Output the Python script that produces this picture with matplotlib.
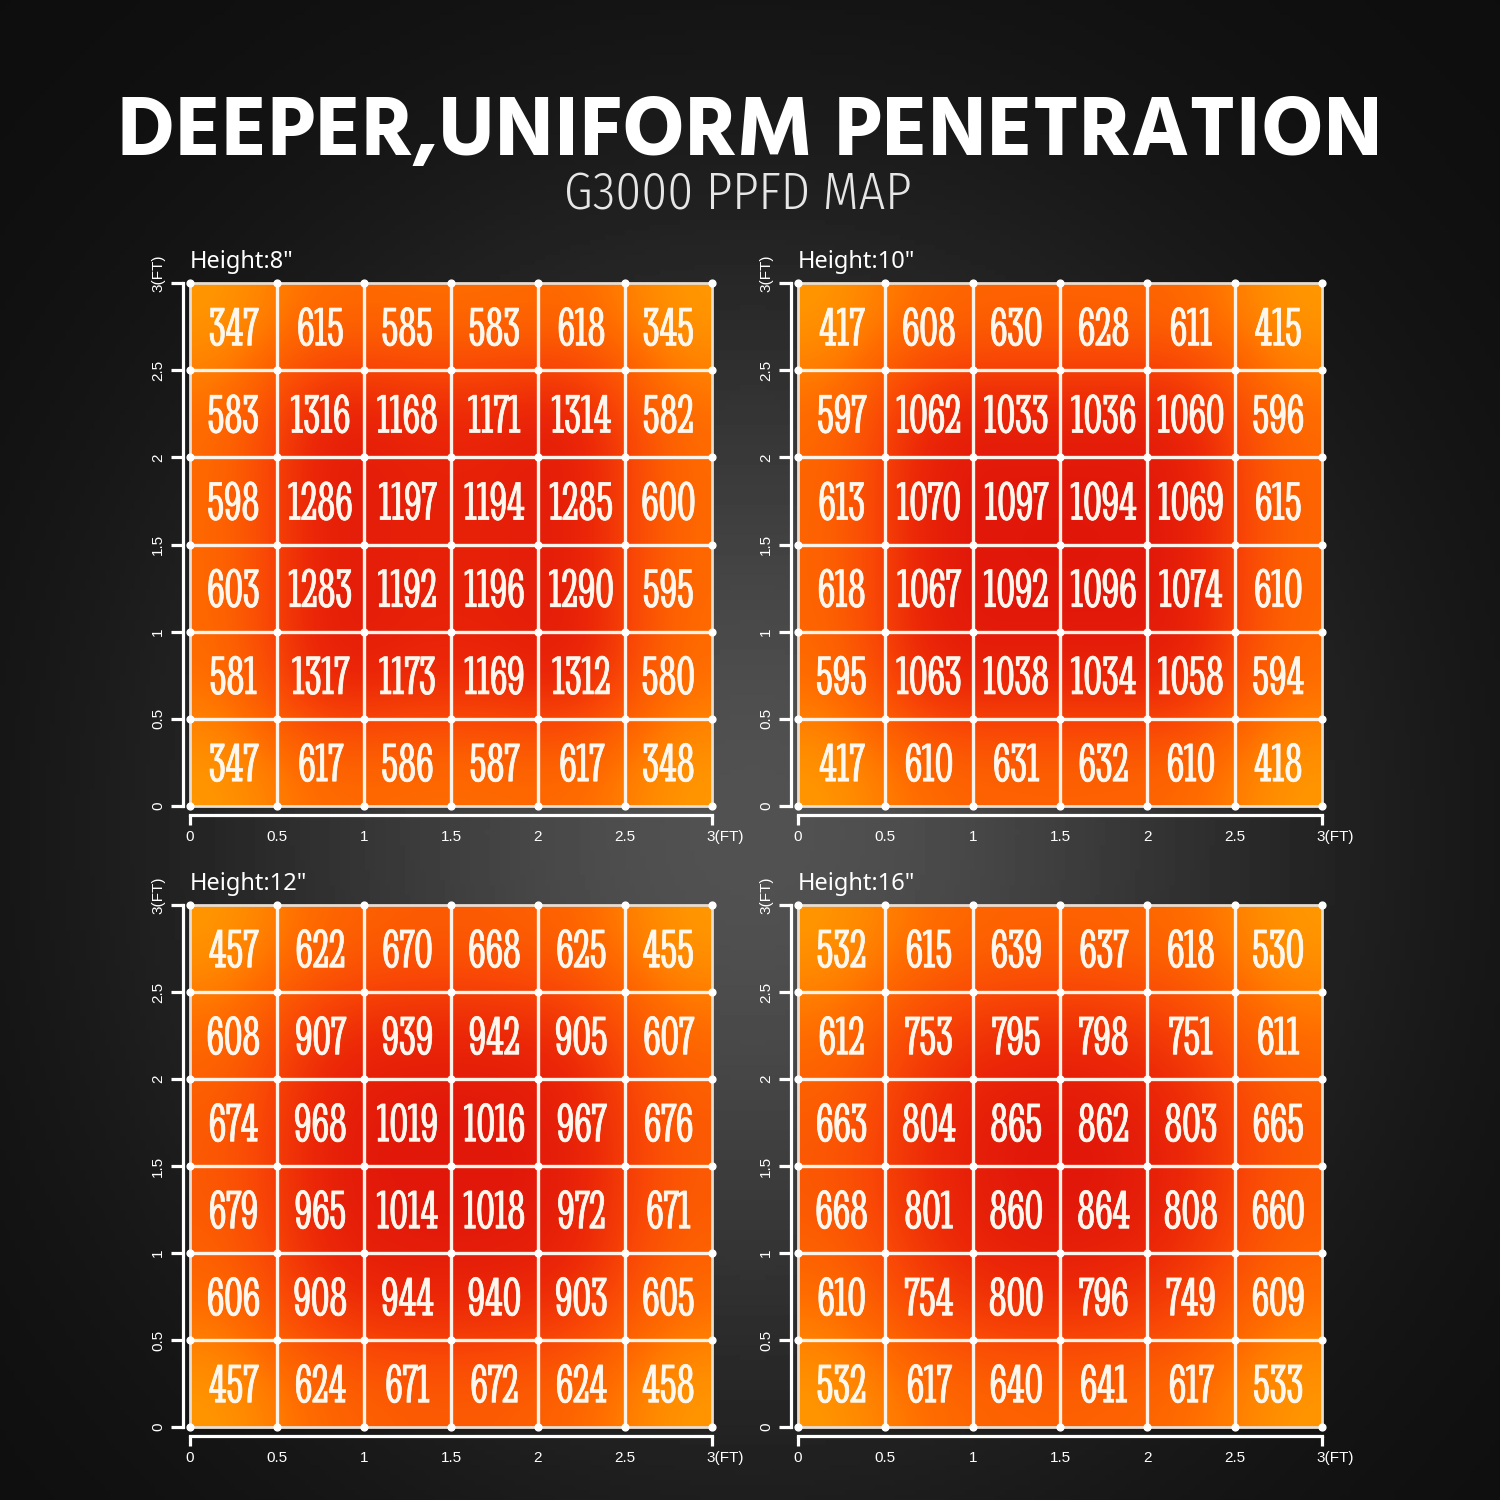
import numpy as np
import matplotlib.pyplot as plt
import matplotlib.patheffects as pe
from matplotlib.colors import LinearSegmentedColormap, Normalize
from matplotlib.transforms import offset_copy

# PPFD readings (umol/m2/s), rows listed top to bottom
ppfd_8 = [[347, 615, 585, 583, 618, 345],
          [583, 1316, 1168, 1171, 1314, 582],
          [598, 1286, 1197, 1194, 1285, 600],
          [603, 1283, 1192, 1196, 1290, 595],
          [581, 1317, 1173, 1169, 1312, 580],
          [347, 617, 586, 587, 617, 348]]
ppfd_10 = [[417, 608, 630, 628, 611, 415],
           [597, 1062, 1033, 1036, 1060, 596],
           [613, 1070, 1097, 1094, 1069, 615],
           [618, 1067, 1092, 1096, 1074, 610],
           [595, 1063, 1038, 1034, 1058, 594],
           [417, 610, 631, 632, 610, 418]]
ppfd_12 = [[457, 622, 670, 668, 625, 455],
           [608, 907, 939, 942, 905, 607],
           [674, 968, 1019, 1016, 967, 676],
           [679, 965, 1014, 1018, 972, 671],
           [606, 908, 944, 940, 903, 605],
           [457, 624, 671, 672, 624, 458]]
ppfd_16 = [[532, 615, 639, 637, 618, 530],
           [612, 753, 795, 798, 751, 611],
           [663, 804, 865, 862, 803, 665],
           [668, 801, 860, 864, 808, 660],
           [610, 754, 800, 796, 749, 609],
           [532, 617, 640, 641, 617, 533]]

heights = ['Height:8"', 'Height:10"', 'Height:12"', 'Height:16"']
grids = [ppfd_8, ppfd_10, ppfd_12, ppfd_16]
tick_pos = [0, 0.5, 1, 1.5, 2, 2.5, 3]
tick_txt = ['0', '0.5', '1', '1.5', '2', '2.5', '3(FT)']

W = 1500.0
# panel rectangles in pixels: left, top, right, bottom
rects = [(190, 283, 712, 806), (798, 283, 1322, 806),
         (190, 905, 712, 1427), (798, 905, 1322, 1427)]

cmap = LinearSegmentedColormap.from_list(
    'ppfd', [(0.0, '#ff9a00'), (0.25, '#ff6c00'), (0.55, '#f94806'),
             (0.8, '#ec2808'), (1.0, '#e0160a')])

fig = plt.figure(figsize=(15, 15), dpi=100)

# dark vignette background
bg = fig.add_axes([0, 0, 1, 1])
yy, xx = np.mgrid[0:300, 0:300] * 5.0
shade = 0.05 + 0.27 * np.exp(-((xx - 750) ** 2 / (2 * 380 ** 2) + (yy - 830) ** 2 / (2 * 400 ** 2)))
bg.imshow(shade, cmap='gray', vmin=0, vmax=1, extent=(0, 1, 0, 1), aspect='auto')
bg.set_axis_off()

fig.text(0.5, 1 - 133 / W, 'DEEPER,UNIFORM PENETRATION', color='white',
         fontsize=61, fontweight='bold', family='Hind', ha='center', va='center')
fig.text(0.492, 1 - 195 / W, 'G3000 PPFD MAP', color='#e6e6e6',
         fontsize=37, fontweight=300, family='Fira Sans Condensed', ha='center', va='center')

for title, data, (l, t, r, b) in zip(heights, grids, rects):
    ax = fig.add_axes([l / W, 1 - b / W, (r - l) / W, (b - t) / W])
    ax.set_facecolor('none')
    vals = np.array(data, dtype=float)
    ax.imshow(vals, cmap=cmap, norm=Normalize(vals.min(), vals.max()),
              interpolation='bicubic', extent=(0, 3, 0, 3), aspect='auto')
    ax.set_xlim(0, 3)
    ax.set_ylim(0, 3)

    # white cell grid with dots at the crossings
    for p in tick_pos:
        edge = p in (0, 3)
        c = '#e8ddd2' if edge else '#fbf3ea'
        w = 2.0 if edge else 2.4
        ax.plot([p, p], [0, 3], color=c, lw=w, clip_on=False, zorder=3)
        ax.plot([0, 3], [p, p], color=c, lw=w, clip_on=False, zorder=3)
    gx, gy = np.meshgrid(tick_pos, tick_pos)
    ax.scatter(gx.ravel(), gy.ravel(), s=24, color='white', clip_on=False, zorder=4)

    # numbers
    n = vals.shape[0]
    for i in range(n):
        for j in range(n):
            ax.text((j + 0.5) * 3 / n, 3 - (i + 0.5) * 3 / n - 0.03, str(data[i][j]),
                    color='#fdf7ee', fontsize=40, family='Stint Ultra Condensed',
                    ha='center', va='center', zorder=5,
                    path_effects=[pe.withStroke(linewidth=0.5, foreground='#fdf7ee')])

    # bracket axes
    for s in ['top', 'right']:
        ax.spines[s].set_visible(False)
    ax.spines['left'].set_position(('outward', 5))
    ax.spines['bottom'].set_position(('outward', 6.5))
    for s in ['left', 'bottom']:
        ax.spines[s].set_color('white')
        ax.spines[s].set_linewidth(2.3)
    ax.set_yticks(tick_pos)
    ax.set_yticklabels([])
    ax.tick_params(axis='y', direction='out', length=8.5, width=2.3, color='white')
    ax.set_xticks([0, 3])
    ax.set_xticklabels([])
    ax.tick_params(axis='x', direction='out', length=7, width=2.3, color='white')

    for p, s in zip(tick_pos, tick_txt):
        if p < 3:
            tr = offset_copy(ax.transData, fig=fig, x=-32, y=0, units='dots')
            ax.text(0, p, s, transform=tr, rotation=90, color='white', fontsize=11,
                    family='Liberation Sans', ha='center', va='center', clip_on=False)
            tr = offset_copy(ax.transData, fig=fig, x=0, y=-31, units='dots')
            ax.text(p, 0, s, transform=tr, color='white', fontsize=11,
                    family='Liberation Sans', ha='center', va='center', clip_on=False)
        else:
            tr = offset_copy(ax.transData, fig=fig, x=-32, y=-9, units='dots')
            ax.text(0, p, s, transform=tr, rotation=90, color='white', fontsize=11,
                    family='Liberation Sans', ha='center', va='bottom', clip_on=False)
            tr = offset_copy(ax.transData, fig=fig, x=-6, y=-31, units='dots')
            ax.text(p, 0, s, transform=tr, color='white', fontsize=11,
                    family='Liberation Sans', ha='left', va='center', clip_on=False)

    tr = offset_copy(ax.transAxes, fig=fig, x=0, y=21, units='dots')
    ax.text(0, 1, title, transform=tr, color='white', fontsize=17,
            family='Noto Sans', fontweight='medium', ha='left', va='center')

fig.savefig('out.png', dpi=100)
